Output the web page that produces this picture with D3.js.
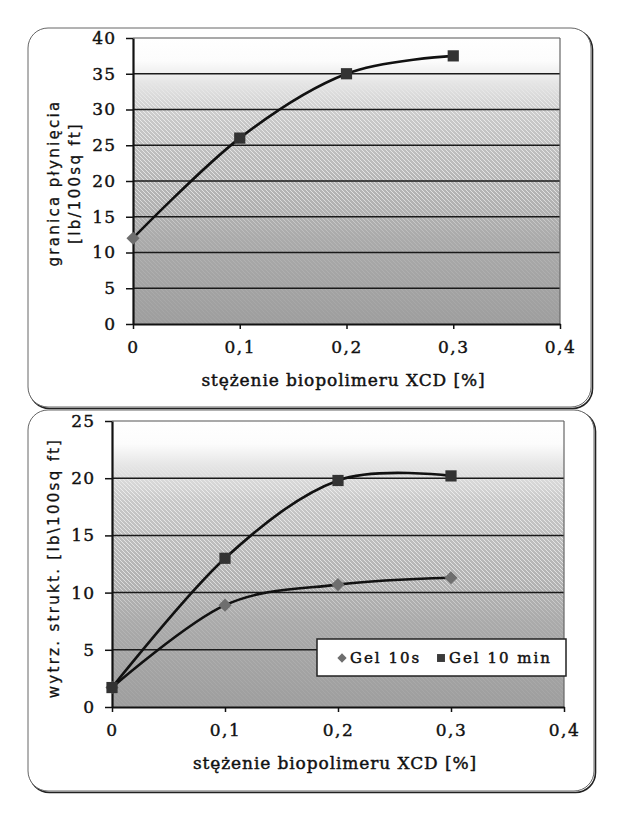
<!DOCTYPE html>
<html><head><meta charset="utf-8">
<script src="https://cdn.jsdelivr.net/npm/d3@7"></script>
<style>body{margin:0;background:#fff}</style>
</head><body>
<svg id="c" width="622" height="815"></svg>
<script>
// ---- data ----
const concentration = [0, 0.1, 0.2, 0.3];
const yieldPoint = [12, 26, 35, 37.5];
const yieldMarkers = ["diamond", "square", "square", "square"];
const gel10s = [1.7, 8.9, 10.7, 11.3];
const gel10min = [1.7, 13, 19.8, 20.2];
const xTickValues = [0, 0.1, 0.2, 0.3, 0.4];
const xTickLabels = ["0", "0,1", "0,2", "0,3", "0,4"];
const yTicksTop = [0, 5, 10, 15, 20, 25, 30, 35, 40];
const yTicksBottom = [0, 5, 10, 15, 20, 25];
const xTitle = "stężenie biopolimeru XCD [%]";
const yTitleTop = ["granica płynięcia", "[lb/100sq ft]"];
const yTitleBottom = "wytrz. strukt. [lb\\100sq ft]";
const legendNames = ["Gel 10s", "Gel 10 min"];

const svg = d3.select("#c");
const defs = svg.append("defs");

const bg = defs.append("linearGradient").attr("id", "bg").attr("x1", 0).attr("y1", 0).attr("x2", 0).attr("y2", 1);
[[0, "#ffffff"], [0.08, "#fcfcfc"], [0.16, "#e4e4e4"], [0.28, "#c8c8c8"], [0.5, "#b6b6b6"], [0.75, "#a8a8a8"], [1, "#9e9e9e"]]
  .forEach(([o, c]) => bg.append("stop").attr("offset", o).attr("stop-color", c));

const hg = defs.append("linearGradient").attr("id", "hg").attr("x1", 0).attr("y1", 0).attr("x2", 0).attr("y2", 1);
[[0, 0], [0.14, 0], [0.24, 1], [0.55, 1], [0.7, 0.25], [1, 0.1]]
  .forEach(([o, a]) => hg.append("stop").attr("offset", o).attr("stop-color", "#fff").attr("stop-opacity", a));

const pat = defs.append("pattern").attr("id", "hatch").attr("patternUnits", "userSpaceOnUse")
  .attr("width", 4).attr("height", 4);
pat.append("path").attr("d", "M0,0L4,4M-1,3L1,5M3,-1L5,1")
  .attr("stroke", "#fff").attr("stroke-width", 1).attr("stroke-opacity", 0.6);

const serif = "'DejaVu Serif', 'Liberation Serif', serif";
const sans = "'DejaVu Sans', 'Liberation Sans', sans-serif";

function symbolPath(shape, size) {
  return d3.symbol().type(shape === "diamond" ? d3.symbolDiamond2 : d3.symbolSquare2).size(size)();
}
function ink(sel, w) {
  return sel.attr("fill", "#111").attr("stroke", "#111").attr("stroke-width", w).attr("paint-order", "stroke");
}

function panel(cfg) {
  const g = svg.append("g");
  g.append("rect").attr("x", cfg.box.x + 1.5).attr("y", cfg.box.y + 1.5)
    .attr("width", cfg.box.w).attr("height", cfg.box.h).attr("rx", 20)
    .attr("fill", "none").attr("stroke", "#222").attr("stroke-width", 1.6);
  g.append("rect").attr("x", cfg.box.x).attr("y", cfg.box.y)
    .attr("width", cfg.box.w).attr("height", cfg.box.h).attr("rx", 20)
    .attr("fill", "#fff").attr("stroke", "#666").attr("stroke-width", 1);

  const x = d3.scaleLinear().domain([0, 0.4]).range([cfg.left, cfg.right]);
  const y = d3.scaleLinear().domain([0, cfg.yMax]).range([cfg.bottom, cfg.top]);

  const pw = cfg.right - cfg.left, ph = cfg.bottom - cfg.top;
  g.append("rect").attr("x", cfg.left).attr("y", cfg.top).attr("width", pw).attr("height", ph)
    .attr("fill", "url(#bg)");
  const mid = "m" + cfg.id;
  const mask = defs.append("mask").attr("id", mid);
  mask.append("rect").attr("x", cfg.left).attr("y", cfg.top).attr("width", pw).attr("height", ph)
    .attr("fill", "url(#hg)");
  g.append("rect").attr("x", cfg.left).attr("y", cfg.top).attr("width", pw).attr("height", ph)
    .attr("fill", "url(#hatch)").attr("mask", `url(#${mid})`);

  g.append("g").selectAll("line").data(cfg.yTicks.filter(d => d > 0)).join("line")
    .attr("x1", cfg.left).attr("x2", cfg.right).attr("y1", d => y(d)).attr("y2", d => y(d))
    .attr("stroke", d => d === cfg.yMax ? "#555" : "#1a1a1a").attr("stroke-width", d => d === cfg.yMax ? 1.2 : 1.5);
  g.append("line").attr("x1", cfg.right).attr("x2", cfg.right).attr("y1", cfg.top).attr("y2", cfg.bottom)
    .attr("stroke", "#666").attr("stroke-width", 1.2);

  const ya = g.append("g").attr("transform", `translate(${cfg.left},0)`)
    .call(d3.axisLeft(y).tickValues(cfg.yTicks).tickSize(7).tickPadding(11).tickSizeOuter(0));
  ya.select(".domain").attr("stroke", "#111").attr("stroke-width", 2.2);
  ya.selectAll(".tick line").attr("stroke", "#111").attr("stroke-width", 1.5);
  ink(ya.selectAll(".tick text").attr("font-family", serif).attr("font-size", 17)
    .attr("letter-spacing", 1).attr("dx", 1), 0.4);

  const xa = g.append("g").attr("transform", `translate(0,${cfg.bottom})`)
    .call(d3.axisBottom(x).tickValues(xTickValues).tickFormat((d, i) => xTickLabels[i])
      .tickSize(5).tickPadding(12).tickSizeOuter(0));
  xa.select(".domain").attr("stroke", "#111").attr("stroke-width", 2.2);
  xa.selectAll(".tick line").attr("stroke", "#111").attr("stroke-width", 1.5);
  ink(xa.selectAll(".tick text").attr("font-family", serif).attr("font-size", 17)
    .attr("letter-spacing", 1.5), 0.4);

  ink(g.append("text").attr("x", (cfg.left + cfg.right) / 2 - 3).attr("y", cfg.bottom + 62)
    .attr("text-anchor", "middle").attr("font-family", serif).attr("font-size", 17)
    .attr("letter-spacing", 0.9).text(xTitle), 0.45);

  return { g, x, y };
}

// ---- top chart ----
const topChart = panel({ id: "t", box: { x: 28, y: 28, w: 563, h: 379 }, left: 133, right: 560, top: 38, bottom: 324, yMax: 40, yTicks: yTicksTop });
const cy = (topChart.y(0) + topChart.y(40)) / 2;
const tt = ink(topChart.g.append("text").attr("transform", `translate(59,${cy + 2}) rotate(-90)`)
  .attr("text-anchor", "middle").attr("font-family", sans).attr("font-size", 15)
  .attr("letter-spacing", 2.3), 0.3);
tt.append("tspan").attr("x", 0).attr("dy", 0).text(yTitleTop[0]);
tt.append("tspan").attr("x", 0).attr("dy", 21).text(yTitleTop[1]);

const lineTop = d3.line().x((d, i) => topChart.x(concentration[i])).y(d => topChart.y(d)).curve(d3.curveCardinal.tension(0));
topChart.g.append("path").attr("d", lineTop(yieldPoint)).attr("fill", "none").attr("stroke", "#111").attr("stroke-width", 2.6);
topChart.g.selectAll(".mk").data(yieldPoint).join("path")
  .attr("transform", (d, i) => `translate(${topChart.x(concentration[i])},${topChart.y(d)})`)
  .attr("d", (d, i) => symbolPath(yieldMarkers[i], yieldMarkers[i] === "diamond" ? 110 : 160))
  .attr("fill", (d, i) => yieldMarkers[i] === "diamond" ? "#6e6e6e" : "#333");

// ---- bottom chart ----
const botChart = panel({ id: "b", box: { x: 28, y: 410, w: 566, h: 381 }, left: 112, right: 564, top: 421, bottom: 707, yMax: 25, yTicks: yTicksBottom });
const cy2 = (botChart.y(0) + botChart.y(25)) / 2;
ink(botChart.g.append("text").attr("transform", `translate(59,${cy2 + 4}) rotate(-90)`)
  .attr("text-anchor", "middle").attr("font-family", sans).attr("font-size", 15)
  .attr("letter-spacing", 2.3).text(yTitleBottom), 0.3);

const lineBot = d3.line().x((d, i) => botChart.x(concentration[i])).y(d => botChart.y(d)).curve(d3.curveCardinal.tension(0));
botChart.g.append("path").attr("d", lineBot(gel10s)).attr("fill", "none").attr("stroke", "#111").attr("stroke-width", 2.6);
botChart.g.append("path").attr("d", lineBot(gel10min)).attr("fill", "none").attr("stroke", "#111").attr("stroke-width", 2.6);
botChart.g.selectAll(".d10").data(gel10s).join("path")
  .attr("transform", (d, i) => `translate(${botChart.x(concentration[i])},${botChart.y(d)})`)
  .attr("d", symbolPath("diamond", 110)).attr("fill", "#6e6e6e");
botChart.g.selectAll(".s10").data(gel10min).join("path")
  .attr("transform", (d, i) => `translate(${botChart.x(concentration[i])},${botChart.y(d)})`)
  .attr("d", symbolPath("square", 160)).attr("fill", "#333");

const lg = botChart.g.append("g");
lg.append("rect").attr("x", 317).attr("y", 639).attr("width", 249).attr("height", 37)
  .attr("fill", "#fff").attr("stroke", "#222").attr("stroke-width", 1.5);
const legendX = [342, 441];
legendNames.forEach((name, i) => {
  lg.append("path").attr("transform", `translate(${legendX[i]},658)`)
    .attr("d", symbolPath(i === 0 ? "diamond" : "square", i === 0 ? 55 : 80))
    .attr("fill", i === 0 ? "#6e6e6e" : "#3a3a3a");
  ink(lg.append("text").attr("x", legendX[i] + 8).attr("y", 663).attr("font-family", serif)
    .attr("font-size", 15).attr("letter-spacing", 2).text(name), 0.45);
});
</script>
</body></html>
